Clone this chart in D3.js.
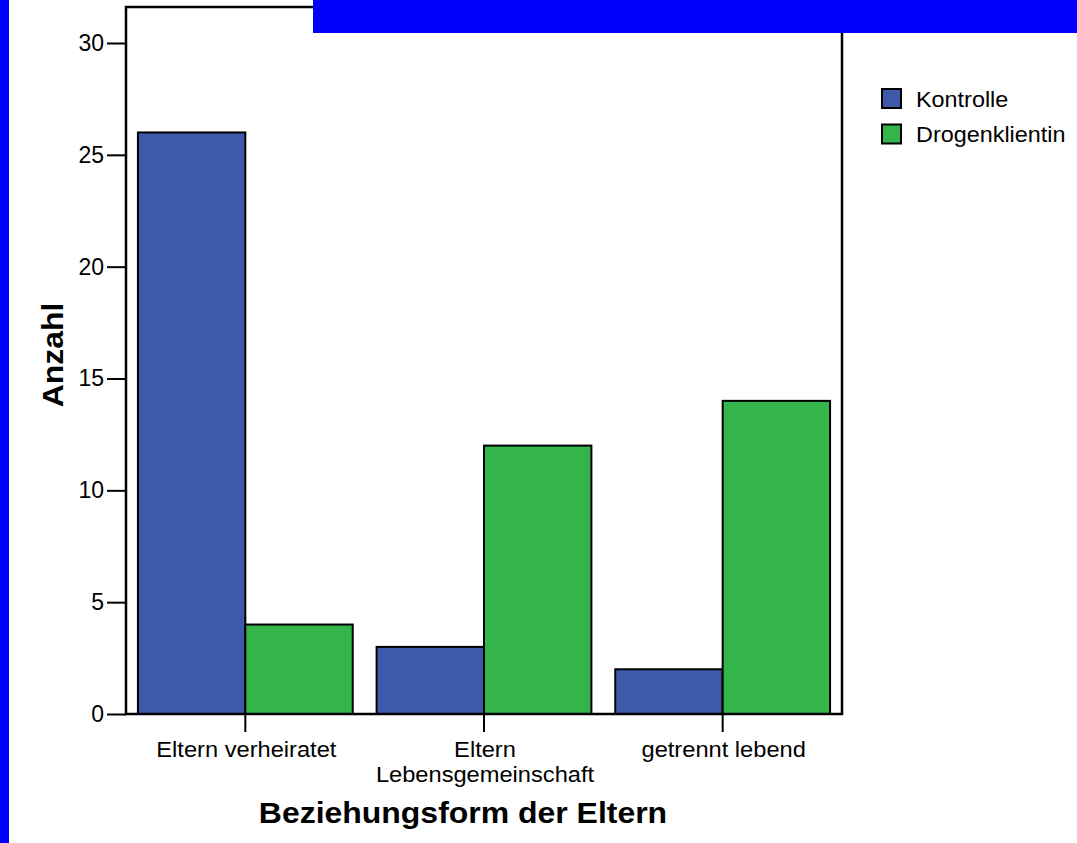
<!DOCTYPE html>
<html>
<head>
<meta charset="utf-8">
<script src="https://cdn.jsdelivr.net/npm/d3@7"></script>
<style>
  html, body { margin: 0; padding: 0; background: #fff; }
  svg { display: block; font-family: "Liberation Sans", Arial, Helvetica, sans-serif; }
</style>
</head>
<body>
<script>
// ---- data ----
const categories = ["Eltern verheiratet", "Eltern\nLebensgemeinschaft", "getrennt lebend"];
const seriesNames = ["Kontrolle", "Drogenklientin"];
const kontrolle = [26, 3, 2];
const drogenklientin = [4, 12, 14];
const yTicks = [0, 5, 10, 15, 20, 25, 30];
const colors = ["#3f59a9", "#33b54b"];
const xTitle = "Beziehungsform der Eltern";
const yTitle = "Anzahl";

(function () {
const W = 1077, H = 843;
const svg = d3.select("body").append("svg").attr("width", W).attr("height", H);
svg.append("rect").attr("width", W).attr("height", H).attr("fill", "#fff");

const mLeft = 126, mRight = 842, mTop = 7, mBottom = 714;

const x = d3.scaleBand().domain(categories).range([mLeft, mRight]).paddingInner(0.1).paddingOuter(0.05);
const xs = d3.scaleBand().domain(seriesNames).range([0, x.bandwidth()]).padding(0);
const y = d3.scaleLinear().domain([0, 30]).range([mBottom, 43]);

const data = categories.map((c, i) => ({ cat: c, values: [kontrolle[i], drogenklientin[i]] }));

// bars
const g = svg.append("g");
data.forEach(d => {
  d.values.forEach((v, j) => {
    g.append("rect")
      .attr("x", x(d.cat) + xs(seriesNames[j]))
      .attr("y", y(v))
      .attr("width", xs.bandwidth())
      .attr("height", y(0) - y(v))
      .attr("fill", colors[j])
      .attr("stroke", "#000")
      .attr("stroke-width", 2);
  });
});

// frame
svg.append("path")
  .attr("d", `M${mLeft},${mBottom} L${mLeft},${mTop} L${mRight},${mTop} L${mRight},${mBottom} Z`)
  .attr("fill", "none").attr("stroke", "#000").attr("stroke-width", 2.5);

// y axis
const yAxis = d3.axisLeft(y).tickValues(yTicks).tickSize(19).tickPadding(3).tickFormat(d3.format("d"));
const ya = svg.append("g").attr("transform", `translate(${mLeft},0)`).call(yAxis);
ya.select(".domain").remove();
ya.selectAll(".tick line").attr("stroke", "#000").attr("stroke-width", 2);
ya.selectAll(".tick text").attr("fill", "#000").style("font-size", "23px").attr("font-family", null);

// x axis ticks
const xa = svg.append("g").attr("transform", `translate(0,${mBottom})`)
  .call(d3.axisBottom(x).tickSize(18).tickFormat(""));
xa.select(".domain").remove();
xa.selectAll(".tick line").attr("stroke", "#000").attr("stroke-width", 2);

// x labels
categories.forEach(c => {
  const cx = x(c) + x.bandwidth() / 2;
  c.split("\n").forEach((line, k) => {
    svg.append("text")
      .attr("transform", `translate(${cx + 1},${757 + k * 25}) scale(1.1,1)`)
      .attr("text-anchor", "middle")
      .style("font-size", "21.5px")
      .attr("fill", "#000")
      .text(line);
  });
});

// axis titles
svg.append("text")
  .attr("transform", `translate(${(mLeft + mRight) / 2 - 21},822.5) scale(1.11,1)`)
  .attr("text-anchor", "middle")
  .style("font-size", "28.8px").style("font-weight", "bold")
  .text(xTitle);

svg.append("text")
  .attr("transform", `translate(63,355) rotate(-90) scale(1.1,1)`)
  .attr("text-anchor", "middle")
  .style("font-size", "29px").style("font-weight", "bold")
  .text(yTitle);

// legend
const lg = svg.append("g");
seriesNames.forEach((s, i) => {
  lg.append("rect")
    .attr("x", 882).attr("y", 89 + i * 35.5)
    .attr("width", 19).attr("height", 19)
    .attr("fill", colors[i]).attr("stroke", "#000").attr("stroke-width", 2);
  lg.append("text")
    .attr("transform", `translate(916,${106.5 + i * 35.5}) scale(1.04,1)`)
    .style("font-size", "22.5px")
    .text(s);
});

// blue overlay bands present in the reference image
svg.append("rect").attr("x", 0).attr("y", 0).attr("width", 9).attr("height", H).attr("fill", "#0000ff");
svg.append("rect").attr("x", 313).attr("y", 0).attr("width", W - 313).attr("height", 33).attr("fill", "#0000ff");
})();
</script>
</body>
</html>
